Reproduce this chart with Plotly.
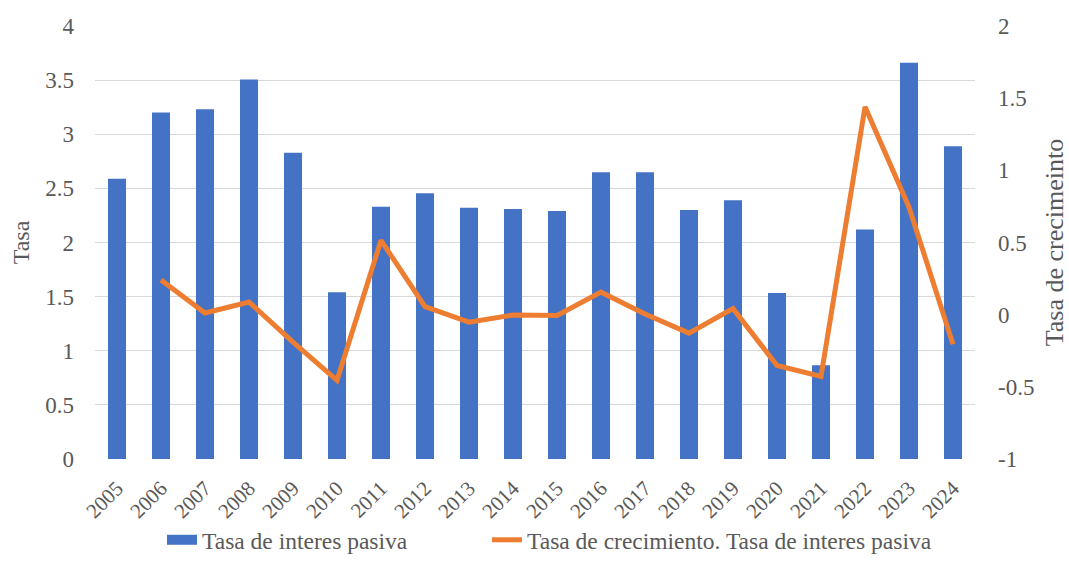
import plotly.graph_objects as go

# Years on the category axis
years = [str(y) for y in range(2005, 2025)]

# Tasa de interes pasiva (left axis)
tasa_pasiva = [2.59, 3.20, 3.23, 3.505, 2.83, 1.54, 2.33, 2.455, 2.32, 2.31,
               2.29, 2.65, 2.65, 2.30, 2.39, 1.533, 0.866, 2.12, 3.66, 2.89]

# Tasa de crecimiento (right axis), starts in 2006
crec_years = years[1:]
tasa_crecimiento = [0.24, 0.012, 0.088, -0.19, -0.455, 0.515, 0.055, -0.052, -0.003,
                    -0.006, 0.156, 0.005, -0.128, 0.042, -0.352, -0.428, 1.44, 0.745, -0.205]

# Tick labels
left_ticks = [0, 0.5, 1, 1.5, 2, 2.5, 3, 3.5, 4]
left_labels = ["0", "0.5", "1", "1.5", "2", "2.5", "3", "3.5", "4"]
right_ticks = [-1, -0.5, 0, 0.5, 1, 1.5, 2]
right_labels = ["-1", "-0.5", "0", "0.5", "1", "1.5", "2"]

FONT = "Liberation Serif"
GREY = "#595959"
GRID = "#D9D9D9"
BLUE = "#4472C4"
ORANGE = "#ED7D31"

fig = go.Figure()
fig.add_trace(go.Bar(
    x=years, y=tasa_pasiva, name="Tasa de interes pasiva",
    marker=dict(color=BLUE, line=dict(width=0)),
    yaxis="y", showlegend=False,
))
# legend key drawn as a wide blue block
fig.add_trace(go.Scatter(
    x=[None], y=[None], name="Tasa de interes pasiva", mode="lines",
    line=dict(color=BLUE, width=11), legend="legend",
))
fig.add_trace(go.Scatter(
    x=crec_years, y=tasa_crecimiento, name="Tasa de crecimiento. Tasa de interes pasiva",
    mode="lines", line=dict(color=ORANGE, width=5),
    yaxis="y2", legend="legend2",
))

legend_common = dict(
    orientation="h", yref="container", y=1 - 540 / 577, yanchor="middle",
    xref="container", xanchor="left",
    font=dict(family=FONT, size=23.5, color=GREY),
    bgcolor="rgba(0,0,0,0)",
)

fig.update_layout(
    width=1069, height=577,
    margin=dict(l=95, r=94, t=26, b=118, autoexpand=False),
    paper_bgcolor="white", plot_bgcolor="white",
    font=dict(family=FONT, color=GREY, size=22),
    bargap=0.59,
    showlegend=True,
    legend=dict(x=162 / 1069, **legend_common),
    legend2=dict(x=487 / 1069, **legend_common),
    xaxis=dict(
        type="category", tickangle=-45, showgrid=False, zeroline=False,
        showline=False, ticks="", automargin=False, ticklabelstandoff=12,
        tickfont=dict(family=FONT, size=21, color=GREY),
    ),
    yaxis=dict(
        range=[0, 4], tickvals=left_ticks, ticktext=left_labels,
        showgrid=True, gridcolor=GRID, gridwidth=1.3,
        zeroline=False, showline=False, ticks="", automargin=False,
        ticklabelstandoff=20,
        tickfont=dict(family=FONT, size=23, color=GREY),
        title=dict(text="Tasa", font=dict(family=FONT, size=24, color=GREY), standoff=8),
    ),
    yaxis2=dict(
        range=[-1, 2], tickvals=right_ticks, ticktext=right_labels,
        overlaying="y", side="right",
        showgrid=False, zeroline=False, showline=False, ticks="", automargin=False,
        ticklabelstandoff=22,
        tickfont=dict(family=FONT, size=23, color=GREY),
        title=dict(text="Tasa de crecimeinto", font=dict(family=FONT, size=26, color=GREY), standoff=26),
    ),
)

fig.write_html("out.html")
